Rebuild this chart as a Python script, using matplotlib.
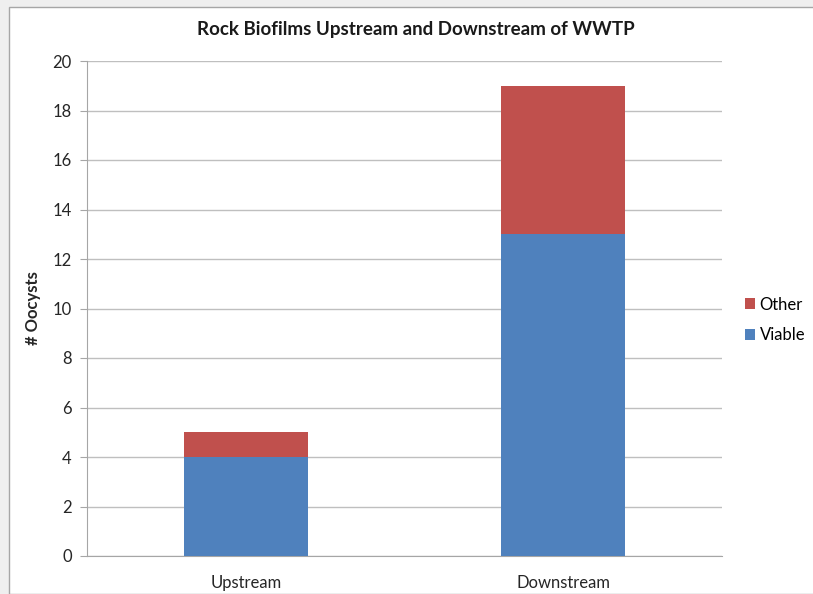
import matplotlib
matplotlib.use("Agg")
import matplotlib.pyplot as plt
from matplotlib.patches import Rectangle

plt.rcParams['font.family'] = ['Lato', 'DejaVu Sans']

categories = ["Upstream", "Downstream"]
viable = [4, 13]
other = [1, 6]
y_ticks = [0, 2, 4, 6, 8, 10, 12, 14, 16, 18, 20]

blue = "#4F81BD"
red = "#C0504D"
grid_col = "#BFBFBF"

fig = plt.figure(figsize=(8.13, 5.94), dpi=100)
fig.patch.set_facecolor("#EFEFEF")
# white chart panel with thin grey frame
fig.add_artist(Rectangle((9 / 813, 0), 1, 1 - 7 / 594, transform=fig.transFigure,
                         facecolor="white", edgecolor="#A6A6A6", linewidth=1.0, zorder=0))

ax = fig.add_axes([87 / 813, 1 - 556 / 594, (722 - 87) / 813, (556 - 61) / 594])
ax.set_facecolor("none")

x = list(range(len(categories)))
ax.bar(x, viable, width=0.39, color=blue, label="Viable", zorder=3)
ax.bar(x, other, width=0.39, bottom=viable, color=red, label="Other", zorder=3)

ax.set_xlim(-0.5, len(categories) - 0.5)
ax.set_ylim(0, 20)
ax.set_yticks(y_ticks)
ax.set_xticks(x)
ax.set_xticklabels(categories, fontsize=12, color="#262626")
ax.tick_params(axis="x", length=0, pad=14)
ax.tick_params(axis="y", length=5, color="#A6A6A6", labelsize=12, labelcolor="#262626", pad=6)
ax.grid(axis="y", color=grid_col, linewidth=1.0, zorder=0)
for s in ["top", "right"]:
    ax.spines[s].set_visible(False)
for s in ["left", "bottom"]:
    ax.spines[s].set_color("#A6A6A6")

ax.set_ylabel("# Oocysts", fontsize=12, fontweight="bold", color="#262626", labelpad=8)

fig.text(416 / 813, 1 - 30 / 594, "Rock Biofilms Upstream and Downstream of WWTP",
         ha="center", va="center", fontsize=13.5, fontweight="bold", color="#1a1a1a")

handles, labels = ax.get_legend_handles_labels()
fig.legend(handles[::-1], labels[::-1], loc="center left",
           bbox_to_anchor=(738 / 813, 1 - 320 / 594), frameon=False,
           fontsize=12, handlelength=0.6, handleheight=0.6, handletextpad=0.3,
           labelspacing=0.9, borderaxespad=0)

fig.savefig("out.png", dpi=100, facecolor=fig.get_facecolor())
